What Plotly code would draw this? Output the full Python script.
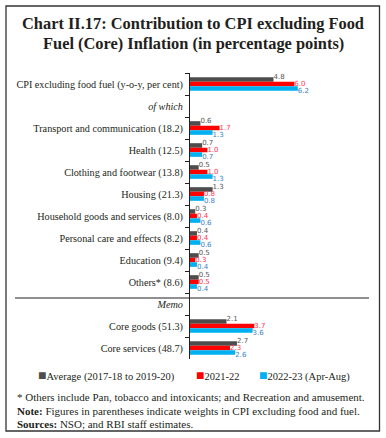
import plotly.graph_objects as go

W, H = 386, 438

categories = [
    "CPI excluding food fuel (y-o-y, per cent)",
    "<i>of which</i>",
    "Transport and communication (18.2)",
    "Health (12.5)",
    "Clothing and footwear (13.8)",
    "Housing (21.3)",
    "Household goods and services (8.0)",
    "Personal care and effects (8.2)",
    "Education (9.4)",
    "Others* (8.6)",
    "<i>Memo</i>",
    "Core goods (51.3)",
    "Core services (48.7)",
]
avg_1718_1920 = [4.8, None, 0.6, 0.7, 0.5, 1.3, 0.3, 0.4, 0.5, 0.5, None, 2.1, 2.7]
fy_2021_22 = [6.0, None, 1.7, 1.0, 1.0, 0.8, 0.4, 0.4, 0.3, 0.5, None, 3.7, 2.3]
fy_2022_23 = [6.2, None, 1.3, 0.7, 1.3, 0.8, 0.6, 0.6, 0.4, 0.4, None, 3.6, 2.6]

series_names = ["Average (2017-18 to 2019-20)", "2021-22", "2022-23 (Apr-Aug)"]
bar_colors = ["#4d4d4d", "#ff0000", "#00b0f0"]
text_colors = ["#555555", "#ff3355", "#3b82c9"]
label_offsets = [-0.31, 0.0, 0.32]   # vertical stagger of value labels (category units)
legend_x = [36, 194, 257]            # legend item left edges (px)

def px(x):
    return x / W

def py(y):
    return 1 - y / H

SERIF = "Liberation Serif"
SANS = "DejaVu Sans"
INK = "#231f20"

fig = go.Figure()
all_series = [avg_1718_1920, fy_2021_22, fy_2022_23]
for name, vals, bc in zip(series_names, all_series, bar_colors):
    fig.add_trace(go.Bar(
        name=name, y=categories, x=vals, orientation="h",
        marker=dict(color=bc, line=dict(width=0)),
        showlegend=False, hoverinfo="x+name",
    ))

# value labels on an overlaid numeric axis so they can be staggered vertically
for vals, tc, off in zip(all_series, text_colors, label_offsets):
    xs, ys, ts = [], [], []
    for i, v in enumerate(vals):
        if v is not None:
            xs.append(v)
            ys.append(i + off)
            ts.append(f"{v:.1f}")
    fig.add_trace(go.Scatter(
        x=xs, y=ys, text=ts, mode="text", yaxis="y2",
        textposition="middle right",
        textfont=dict(family=SANS, size=7, color=tc),
        showlegend=False, hoverinfo="skip", cliponaxis=False,
    ))

ydom = [py(359), py(73)]
fig.update_layout(
    width=W, height=H,
    margin=dict(l=0, r=0, t=0, b=0),
    paper_bgcolor="white", plot_bgcolor="white",
    barmode="group", bargap=0.38, bargroupgap=0,
    font=dict(family=SERIF, size=10.2, color=INK),
    showlegend=False,
    xaxis=dict(domain=[px(190), px(370)], range=[0, 10.35],
               showticklabels=False, showgrid=False, zeroline=False, showline=False, ticks=""),
    yaxis=dict(domain=ydom, type="category", autorange="reversed",
               categoryorder="array", categoryarray=categories,
               showline=True, linecolor=INK, linewidth=1,
               ticks="outside", tickson="boundaries", ticklen=4, tickcolor=INK,
               ticklabelstandoff=4,
               showgrid=False, tickfont=dict(family=SERIF, size=10.2, color=INK)),
    yaxis2=dict(domain=ydom, overlaying="y", range=[len(categories) - 0.5, -0.5],
                visible=False, showgrid=False, zeroline=False),
)

title_lines = ["Chart II.17: Contribution to CPI excluding Food",
               "Fuel (Core) Inflation (in percentage points)"]
for t, yc in zip(title_lines, [23, 43]):
    fig.add_annotation(x=0.5, y=py(yc), xref="paper", yref="paper", xanchor="center", yanchor="middle",
                       text=f"<b>{t}</b>", showarrow=False,
                       font=dict(family=SERIF, size=16.4, color=INK))

for name, bc, lx in zip(series_names, bar_colors, legend_x):
    fig.add_annotation(x=px(lx), y=py(375), xref="paper", yref="paper", xanchor="left", yanchor="middle",
                       text=f"<span style='color:{bc};font-size:14px'>■</span>{name}", showarrow=False,
                       font=dict(family=SERIF, size=10.5, color=INK))

notes = [
    "* Others include Pan, tobacco and intoxicants; and Recreation and amusement.",
    "<b>Note:</b> Figures in parentheses indicate weights in CPI excluding food and fuel.",
    "<b>Sources:</b> NSO; and RBI staff estimates.",
]
for i, t in enumerate(notes):
    fig.add_annotation(x=px(15), y=py(397 + 13.5 * i), xref="paper", yref="paper",
                       xanchor="left", yanchor="middle", text=t, showarrow=False,
                       font=dict(family=SERIF, size=11, color=INK))

fig.add_shape(type="line", xref="paper", yref="paper", x0=px(15), x1=px(369), y0=py(298), y1=py(298),
              line=dict(color=INK, width=1))
fig.add_shape(type="rect", xref="paper", yref="paper", x0=px(6), x1=px(379.5), y0=py(431), y1=py(6),
              line=dict(color="#333333", width=1.3))

fig.write_html("out.html", config={"displayModeBar": False},
               post_script="document.body.style.margin='0';document.body.style.overflow='hidden';")
